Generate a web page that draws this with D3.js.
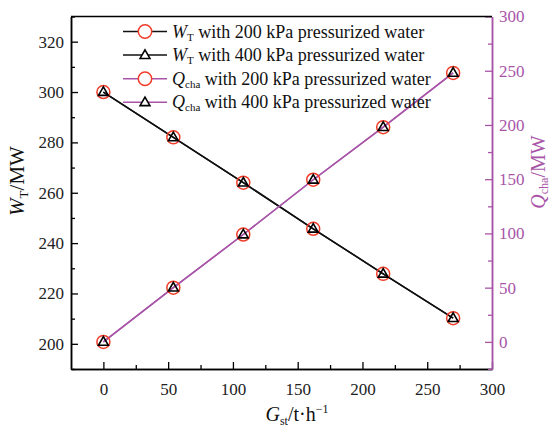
<!DOCTYPE html>
<html><head><meta charset="utf-8">
<script src="https://cdn.jsdelivr.net/npm/d3@7"></script>
<style>body{margin:0;background:#fff}svg{display:block}text{font-family:"Liberation Serif","Times New Roman",serif}</style>
</head><body>
<script>
const gst = [0, 54, 108, 162, 216, 270];
const wt200 = [300, 282, 264, 245.7, 227.8, 210.2];
const wt400 = [300, 282, 264, 245.7, 227.8, 210.2];
const q200 = [0, 50, 99, 149.5, 198, 248];
const q400 = [0, 50, 99, 149.5, 198, 248];
const xTicks = [0, 50, 100, 150, 200, 250, 300];
const yLTicks = [200, 220, 240, 260, 280, 300, 320];
const yRTicks = [0, 50, 100, 150, 200, 250, 300];
const legendLabels = [
  ["W","T"," with 200 kPa pressurized water"],
  ["W","T"," with 400 kPa pressurized water"],
  ["Q","cha"," with 200 kPa pressurized water"],
  ["Q","cha"," with 400 kPa pressurized water"]
];

const W = 551, H = 427;
const L = 71, R = 492, T = 16.5, B = 369;
const purple = "#a855a8", red = "#f03c28";
const svg = d3.select("body").append("svg").attr("width", W).attr("height", H);

const x = d3.scaleLinear().domain([-25, 300]).range([L, R]);
const yL = d3.scaleLinear().domain([190, 330]).range([B, T]);
const yR = d3.scaleLinear().domain([-25, 300]).range([B, T]);

const fs = 17;
svg.append("g").attr("transform", `translate(0,${B})`)
  .call(d3.axisBottom(x).tickValues(xTicks).tickSize(-7).tickPadding(14).tickSizeOuter(0).tickFormat(d3.format("d")));
svg.append("g").attr("transform", `translate(0,${B})`)
  .call(d3.axisBottom(x).tickValues(d3.range(25, 300, 50)).tickSize(-4).tickSizeOuter(0).tickFormat(""));
svg.append("g").attr("transform", `translate(${L},0)`)
  .call(d3.axisLeft(yL).tickValues(yLTicks).tickSize(-7).tickPadding(7).tickSizeOuter(0));
svg.append("g").attr("transform", `translate(${L},0)`)
  .call(d3.axisLeft(yL).tickValues(d3.range(190, 331, 10).filter(v => v % 20 !== 0)).tickSize(-4).tickSizeOuter(0).tickFormat(""));
svg.append("g").attr("class", "raxis").attr("transform", `translate(${R},0)`)
  .call(d3.axisRight(yR).tickValues(yRTicks).tickSize(-7).tickPadding(7).tickSizeOuter(0));
svg.append("g").attr("class", "raxis").attr("transform", `translate(${R},0)`)
  .call(d3.axisRight(yR).tickValues(d3.range(-25, 300, 50)).tickSize(-4).tickSizeOuter(0).tickFormat(""));

svg.selectAll(".domain").attr("stroke-width", 1.5);
svg.selectAll(".tick line").attr("stroke-width", 1.3);
svg.selectAll("g").attr("font-family", null);
svg.selectAll(".tick text").attr("font-size", fs).style("font-family", "'Liberation Serif', serif").attr("fill", "#222");
svg.selectAll(".raxis").selectAll("line,path").attr("stroke", purple);
svg.selectAll(".raxis").selectAll("text").attr("fill", purple);
svg.append("line").attr("x1", L).attr("x2", R).attr("y1", T).attr("y2", T).attr("stroke", "#000").attr("stroke-width", 1.5);

const lineL = d3.line().x((d, i) => x(gst[i])).y(d => yL(d));
const lineR = d3.line().x((d, i) => x(gst[i])).y(d => yR(d));
svg.append("path").attr("d", lineL(wt200)).attr("fill", "none").attr("stroke", "#111").attr("stroke-width", 1.5);
svg.append("path").attr("d", lineL(wt400)).attr("fill", "none").attr("stroke", "#111").attr("stroke-width", 1.5);
svg.append("path").attr("d", lineR(q200)).attr("fill", "none").attr("stroke", purple).attr("stroke-width", 1.5);
svg.append("path").attr("d", lineR(q400)).attr("fill", "none").attr("stroke", purple).attr("stroke-width", 1.5);

const tri = d3.symbol(d3.symbolTriangle, 42);
function circles(vals, sc) {
  svg.append("g").selectAll("circle").data(vals).join("circle")
    .attr("cx", (d, i) => x(gst[i])).attr("cy", d => sc(d)).attr("r", 6.5)
    .attr("fill", "none").attr("stroke", red).attr("stroke-width", 1.5);
}
function tris(vals, sc) {
  svg.append("g").selectAll("path").data(vals).join("path")
    .attr("d", tri).attr("transform", (d, i) => `translate(${x(gst[i])},${sc(d) + 0.5})`)
    .attr("fill", "none").attr("stroke", "#000").attr("stroke-width", 1.6);
}
circles(wt200, yL); tris(wt400, yL);
circles(q200, yR); tris(q400, yR);

const lg = svg.append("g");
const ly0 = 31.5, lstep = 23.6;
legendLabels.forEach((lab, i) => {
  const yy = ly0 + i * lstep;
  const col = i < 2 ? "#111" : purple;
  lg.append("line").attr("x1", 123).attr("x2", 167).attr("y1", yy).attr("y2", yy).attr("stroke", col).attr("stroke-width", 1.5);
  if (i % 2 === 0) {
    lg.append("circle").attr("cx", 145).attr("cy", yy).attr("r", 6.7).attr("fill", "#fff").attr("stroke", red).attr("stroke-width", 1.5);
  } else {
    lg.append("path").attr("d", tri).attr("transform", `translate(145,${yy + 0.5})`).attr("fill", "#fff").attr("stroke", "#000").attr("stroke-width", 1.6);
  }
  const t = lg.append("text").attr("x", 172).attr("y", yy + 6).attr("font-size", 18).attr("fill", "#111");
  t.append("tspan").attr("font-style", "italic").text(lab[0]);
  t.append("tspan").attr("font-size", 11).attr("dy", 3).text(lab[1]);
  t.append("tspan").attr("dy", -3).text(lab[2]);
});

const tl = svg.append("text").attr("transform", `translate(24,181) rotate(-90)`)
  .attr("text-anchor", "middle").attr("font-size", 21).attr("fill", "#111");
tl.append("tspan").attr("font-style", "italic").text("W");
tl.append("tspan").attr("font-size", 13).attr("dy", 4).text("T");
tl.append("tspan").attr("dy", -4).text("/MW");

const tr = svg.append("text").attr("transform", `translate(545,172) rotate(-90)`)
  .attr("text-anchor", "middle").attr("font-size", 20).attr("fill", purple);
tr.append("tspan").attr("font-style", "italic").text("Q");
tr.append("tspan").attr("font-size", 12).attr("dy", 3).text("cha");
tr.append("tspan").attr("dy", -3).text("/MW");

const tx = svg.append("text").attr("x", 297).attr("y", 421)
  .attr("text-anchor", "middle").attr("font-size", 20).attr("fill", "#111");
tx.append("tspan").attr("font-style", "italic").text("G");
tx.append("tspan").attr("font-size", 12).attr("dy", 4).text("st");
tx.append("tspan").attr("dy", -4).text("/t\u00b7h");
tx.append("tspan").attr("font-size", 12).attr("dy", -8).text("\u22121");
</script>
</body></html>
